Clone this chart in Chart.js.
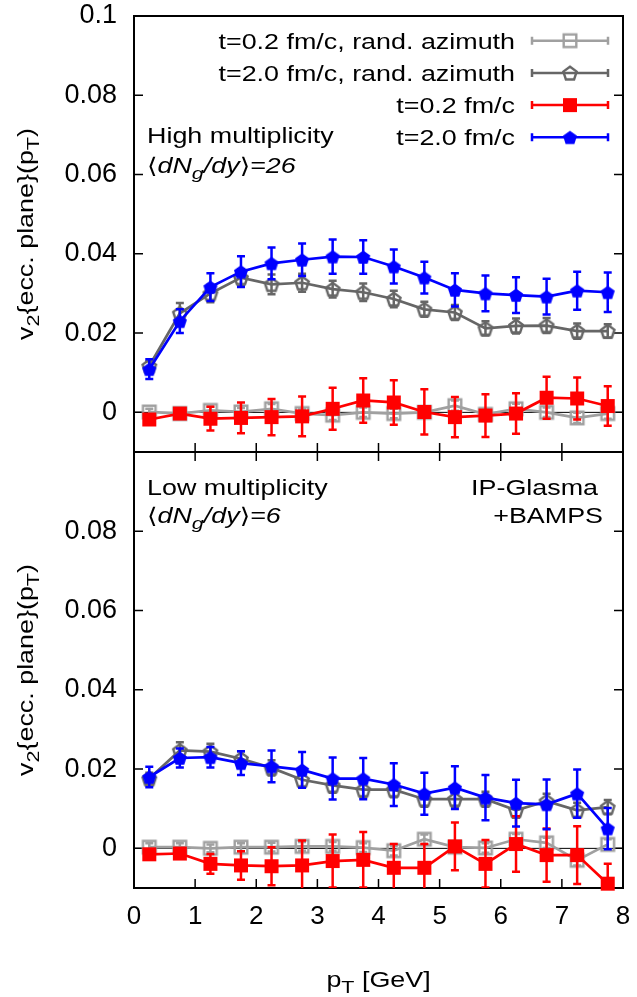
<!DOCTYPE html>
<html><head><meta charset="utf-8">
<script src="https://cdn.jsdelivr.net/npm/chart.js@4/dist/chart.umd.min.js"></script>
<style>
html,body{margin:0;padding:0;background:#fff;}
#wrap{position:relative;width:637px;height:997px;}
canvas{position:absolute;left:0;top:0;}
</style></head><body>
<div id="wrap"><canvas id="c1" width="637" height="997"></canvas><canvas id="c2" width="637" height="997"></canvas></div>
<script>
// ---------- data ----------
const pT = [0.25,0.75,1.25,1.75,2.25,2.75,3.25,3.75,4.25,4.75,5.25,5.75,6.25,6.75,7.25,7.75];
const xTicks = [0,1,2,3,4,5,6,7,8];
const xTickLabels = ['0','1','2','3','4','5','6','7','8'];
const yTicksTop = [0,0.02,0.04,0.06,0.08,0.1];
const yTickLabelsTop = ['0','0.02','0.04','0.06','0.08','0.1'];
const yTicksBottom = [0,0.02,0.04,0.06,0.08];
const yTickLabelsBottom = ['0','0.02','0.04','0.06','0.08'];
const seriesLabels = ['t=0.2 fm/c, rand. azimuth','t=2.0 fm/c, rand. azimuth','t=0.2 fm/c','t=2.0 fm/c'];

// High multiplicity <dNg/dy>=26
const hiRand02    = [0.0001,-0.0003,0.0005,0.0001,0.0009,-0.0003,-0.0007,0.0000,-0.0003,0.0000,0.0017,-0.0005,0.0009,0.0000,-0.0014,-0.0003];
const hiRand02Err = [0.0008,0.0008,0.0010,0.0010,0.0012,0.0012,0.0012,0.0012,0.0012,0.0012,0.0013,0.0012,0.0013,0.0012,0.0013,0.0013];
const hiRand20    = [0.0117,0.0250,0.0300,0.0340,0.0323,0.0327,0.0311,0.0303,0.0286,0.0260,0.0252,0.0212,0.0218,0.0219,0.0205,0.0205];
const hiRand20Err = [0.0012,0.0026,0.0022,0.0021,0.0025,0.0023,0.0021,0.0022,0.0021,0.0019,0.0019,0.0018,0.0019,0.0019,0.0019,0.0017];
const hi02        = [-0.0018,-0.0003,-0.0016,-0.0014,-0.0012,-0.0010,0.0009,0.0030,0.0025,0.0001,-0.0012,-0.0008,-0.0003,0.0037,0.0035,0.0016];
const hi02Err     = [0.0012,0.0010,0.0030,0.0039,0.0046,0.0050,0.0053,0.0056,0.0056,0.0057,0.0051,0.0054,0.0051,0.0053,0.0053,0.0050];
const hi20        = [0.0109,0.0230,0.0316,0.0355,0.0376,0.0385,0.0393,0.0392,0.0368,0.0340,0.0309,0.0300,0.0296,0.0292,0.0307,0.0303];
const hi20Err     = [0.0025,0.0030,0.0035,0.0039,0.0040,0.0041,0.0043,0.0042,0.0043,0.0040,0.0042,0.0045,0.0045,0.0045,0.0048,0.0050];

// Low multiplicity <dNg/dy>=6
const loRand02    = [0.0003,0.0003,0.0000,0.0003,0.0003,0.0005,0.0005,0.0002,-0.0006,0.0023,0.0003,0.0001,0.0023,0.0014,-0.0030,0.0010];
const loRand02Err = [0.0010,0.0010,0.0010,0.0010,0.0011,0.0011,0.0011,0.0011,0.0012,0.0012,0.0012,0.0012,0.0013,0.0013,0.0013,0.0013];
const loRand20    = [0.0176,0.0247,0.0244,0.0226,0.0203,0.0173,0.0159,0.0148,0.0148,0.0124,0.0124,0.0124,0.0096,0.0119,0.0096,0.0104];
const loRand20Err = [0.0015,0.0021,0.0020,0.0019,0.0019,0.0019,0.0019,0.0019,0.0019,0.0019,0.0019,0.0019,0.0019,0.0019,0.0019,0.0018];
const lo02        = [-0.0015,-0.0013,-0.0039,-0.0043,-0.0045,-0.0043,-0.0032,-0.0029,-0.0049,-0.0049,0.0005,-0.0039,0.0011,-0.0017,-0.0017,-0.0089];
const lo02Err     = [0.0010,0.0010,0.0025,0.0036,0.0048,0.0063,0.0067,0.0070,0.0060,0.0060,0.0060,0.0060,0.0070,0.0067,0.0073,0.0050];
const lo20        = [0.0180,0.0228,0.0230,0.0215,0.0207,0.0198,0.0176,0.0176,0.0161,0.0138,0.0153,0.0128,0.0114,0.0111,0.0138,0.0050];
const lo20Err     = [0.0026,0.0024,0.0026,0.0030,0.0040,0.0045,0.0053,0.0052,0.0054,0.0053,0.0054,0.0057,0.0059,0.0063,0.0061,0.0052];

// ---------- styling ----------
const FONT = '"Liberation Sans", "DejaVu Sans", Arial, sans-serif';
const COLORS = ['#a0a0a0', '#666666', '#ff0000', '#0000ff'];

function makeMarker(kind, color) {
  const s = 22;
  const c = document.createElement('canvas'); c.width = s; c.height = s;
  const g = c.getContext('2d');
  const m = s / 2;
  g.lineWidth = 2.4; g.strokeStyle = color; g.fillStyle = color; g.lineJoin = 'miter';
  if (kind === 'openSquare') {
    g.strokeRect(m - 6.3, m - 6.3, 12.6, 12.6);
  } else if (kind === 'fillSquare') {
    g.fillRect(m - 7, m - 7, 14, 14);
  } else {
    const r = kind === 'openPent' ? 7.0 : 7.4;
    g.beginPath();
    for (let k = 0; k < 5; k++) {
      const a = -Math.PI / 2 + k * 2 * Math.PI / 5;
      const px = m + r * Math.cos(a), py = m + 0.8 + r * Math.sin(a);
      if (k === 0) g.moveTo(px, py); else g.lineTo(px, py);
    }
    g.closePath();
    if (kind === 'fillPent') g.fill(); else g.stroke();
  }
  return c;
}
const MARKERS = [
  makeMarker('openSquare', COLORS[0]),
  makeMarker('openPent', COLORS[1]),
  makeMarker('fillSquare', COLORS[2]),
  makeMarker('fillPent', COLORS[3])
];

function segFont(s, fs) {
  return (s.it ? 'italic ' : '') + (s.sub ? fs * 0.8 : fs) + 'px ' + FONT;
}
function drawRich(ctx, segs, x, y, align, fs, sx) {
  let w = 0;
  segs.forEach(s => { ctx.font = segFont(s, fs); w += ctx.measureText(s.t).width; });
  ctx.save();
  ctx.translate(x, y); ctx.scale(sx, 1);
  ctx.textAlign = 'left'; ctx.textBaseline = 'alphabetic'; ctx.fillStyle = '#000';
  let cx = align === 'right' ? -w : (align === 'center' ? -w / 2 : 0);
  segs.forEach(s => {
    ctx.font = segFont(s, fs);
    ctx.fillText(s.t, cx, s.sub ? fs * 0.3 : 0);
    cx += ctx.measureText(s.t).width;
  });
  ctx.restore();
}

const TXT = 21.5, SX = 1.25;
const yTitle = [{t:'v'},{t:'2',sub:true},{t:'{ecc. plane}(p'},{t:'T',sub:true},{t:')'}];

const decoPlugin = {
  id: 'deco',
  beforeDatasetsDraw(chart) {
    const ctx = chart.ctx, a = chart.chartArea;
    const xs = chart.scales.x, ys = chart.scales.y;
    const panel = chart.options.plugins.deco.panel;
    const yt = panel === 'top' ? yTicksTop : yTicksBottom;
    ctx.save();
    // zero line
    ctx.strokeStyle = '#000'; ctx.lineWidth = 1;
    const y0 = ys.getPixelForValue(0);
    ctx.beginPath(); ctx.moveTo(a.left, y0); ctx.lineTo(a.right, y0); ctx.stroke();
    // ticks
    ctx.lineWidth = 1.5;
    const tl = 9;
    ctx.beginPath();
    yt.forEach(v => {
      const py = ys.getPixelForValue(v);
      ctx.moveTo(a.left, py); ctx.lineTo(a.left + tl, py);
      ctx.moveTo(a.right, py); ctx.lineTo(a.right - tl, py);
    });
    xTicks.forEach(v => {
      const px = xs.getPixelForValue(v);
      ctx.moveTo(px, a.bottom); ctx.lineTo(px, a.bottom - tl);
      if (panel === 'bottom') { ctx.moveTo(px, a.top); ctx.lineTo(px, a.top + tl); }
    });
    ctx.stroke();
    // frame
    ctx.lineWidth = 2;
    ctx.strokeRect(a.left, a.top, a.right - a.left, a.bottom - a.top);
    ctx.restore();
  },
  afterDraw(chart) {
    const ctx = chart.ctx, a = chart.chartArea;
    const panel = chart.options.plugins.deco.panel;
    const cy = (a.top + a.bottom) / 2;
    // y axis title
    ctx.save();
    ctx.translate(33, cy); ctx.rotate(-Math.PI / 2);
    drawRich(ctx, yTitle, 0, 0, 'center', TXT, SX);
    ctx.restore();
    const L = a.left + 13;
    if (panel === 'top') {
      drawRich(ctx, [{t:'High multiplicity'}], L, 143, 'left', TXT, SX);
      drawRich(ctx, [{t:'\u27E8'},{t:'dN',it:true},{t:'g',it:true,sub:true},{t:'/dy',it:true},{t:'\u27E9'},{t:'=26',it:true}], L, 173, 'left', TXT, SX);
      // legend
      const rows = [40.7, 72.9, 105.1, 137.3];
      rows.forEach((ry, i) => {
        drawRich(ctx, [{t: seriesLabels[i]}], 515, ry + 8, 'right', TXT, SX);
        ctx.save();
        ctx.strokeStyle = COLORS[i]; ctx.lineWidth = 2.5;
        ctx.beginPath();
        ctx.moveTo(532, ry); ctx.lineTo(608, ry);
        ctx.moveTo(532, ry - 4); ctx.lineTo(532, ry + 4);
        ctx.moveTo(608, ry - 4); ctx.lineTo(608, ry + 4);
        ctx.stroke();
        const m = MARKERS[i];
        ctx.drawImage(m, 570 - m.width / 2, ry - m.height / 2);
        ctx.restore();
      });
    } else {
      drawRich(ctx, [{t:'Low multiplicity'}], L, 495, 'left', TXT, SX);
      drawRich(ctx, [{t:'\u27E8'},{t:'dN',it:true},{t:'g',it:true,sub:true},{t:'/dy',it:true},{t:'\u27E9'},{t:'=6',it:true}], L, 523, 'left', TXT, SX);
      drawRich(ctx, [{t:'IP-Glasma'}], 598, 495, 'right', TXT, SX);
      drawRich(ctx, [{t:'+BAMPS'}], 603, 523, 'right', TXT, SX);
      // x axis title
      drawRich(ctx, [{t:'p'},{t:'T',sub:true},{t:' [GeV]'}], (a.left + a.right) / 2, 987, 'center', TXT, SX);
    }
  }
};

const errPlugin = {
  id: 'errbars',
  afterDatasetDraw(chart, args) {
    const ds = chart.data.datasets[args.index];
    if (!ds.errors) return;
    const ctx = chart.ctx, a = chart.chartArea;
    const xs = chart.scales.x, ys = chart.scales.y;
    ctx.save();
    ctx.beginPath(); ctx.rect(a.left, a.top, a.right - a.left, a.bottom - a.top); ctx.clip();
    ctx.strokeStyle = ds.borderColor; ctx.lineWidth = 2.5;
    ctx.beginPath();
    ds.data.forEach((p, i) => {
      const px = xs.getPixelForValue(p.x);
      const lo = ys.getPixelForValue(p.y - ds.errors[i]);
      const hi = ys.getPixelForValue(p.y + ds.errors[i]);
      ctx.moveTo(px, lo); ctx.lineTo(px, hi);
      ctx.moveTo(px - 4, lo); ctx.lineTo(px + 4, lo);
      ctx.moveTo(px - 4, hi); ctx.lineTo(px + 4, hi);
    });
    ctx.stroke();
    ctx.restore();
  }
};

function mkDataset(i, vals, errs) {
  return {
    label: seriesLabels[i],
    data: pT.map((x, k) => ({x: x, y: vals[k]})),
    errors: errs,
    borderColor: COLORS[i],
    backgroundColor: COLORS[i],
    borderWidth: 2.7,
    pointStyle: MARKERS[i],
    pointRadius: 7,
    pointHoverRadius: 7,
    tension: 0,
    order: 4 - i,
    clip: 4
  };
}

function makeChart(id, panel) {
  const sets = panel === 'top'
    ? [[hiRand02, hiRand02Err], [hiRand20, hiRand20Err], [hi02, hi02Err], [hi20, hi20Err]]
    : [[loRand02, loRand02Err], [loRand20, loRand20Err], [lo02, lo02Err], [lo20, lo20Err]];
  const yT = panel === 'top' ? yTicksTop : yTicksBottom;
  const yL = panel === 'top' ? yTickLabelsTop : yTickLabelsBottom;
  return new Chart(document.getElementById(id), {
    type: 'line',
    data: { datasets: sets.map((s, i) => mkDataset(i, s[0], s[1])) },
    options: {
      responsive: false, animation: false, devicePixelRatio: 1,
      events: [],
      layout: { padding: panel === 'top'
        ? {top: 16, right: 14, bottom: 545, left: 0}
        : {top: 452, right: 14, bottom: 0, left: 0} },
      plugins: { legend: {display: false}, tooltip: {enabled: false}, deco: {panel: panel} },
      scales: {
        x: {
          type: 'linear', min: 0, max: 8, display: panel === 'bottom',
          grid: {display: false, drawTicks: false}, border: {display: false},
          afterBuildTicks: s => { s.ticks = xTicks.map(v => ({value: v})); },
          afterFit: s => { s.height = panel === 'bottom' ? 109 : 0; s.paddingLeft = 0; s.paddingRight = 0; },
          ticks: { autoSkip: false, maxRotation: 0, padding: 13, color: '#000',
                   font: {family: FONT, size: 26},
                   callback: (v, i) => xTickLabels[i] }
        },
        y: {
          type: 'linear', min: -0.01, max: 0.1,
          grid: {display: false, drawTicks: false}, border: {display: false},
          afterBuildTicks: s => { s.ticks = yT.map(v => ({value: v})); },
          afterFit: s => { s.width = 134; s.paddingTop = 0; s.paddingBottom = 0; },
          ticks: { autoSkip: false, padding: 17, color: '#000',
                   font: {family: FONT, size: 27},
                   callback: (v, i) => yL[i] }
        }
      }
    },
    plugins: [decoPlugin, errPlugin]
  });
}
makeChart('c1', 'top');
makeChart('c2', 'bottom');
</script>
</body></html>
